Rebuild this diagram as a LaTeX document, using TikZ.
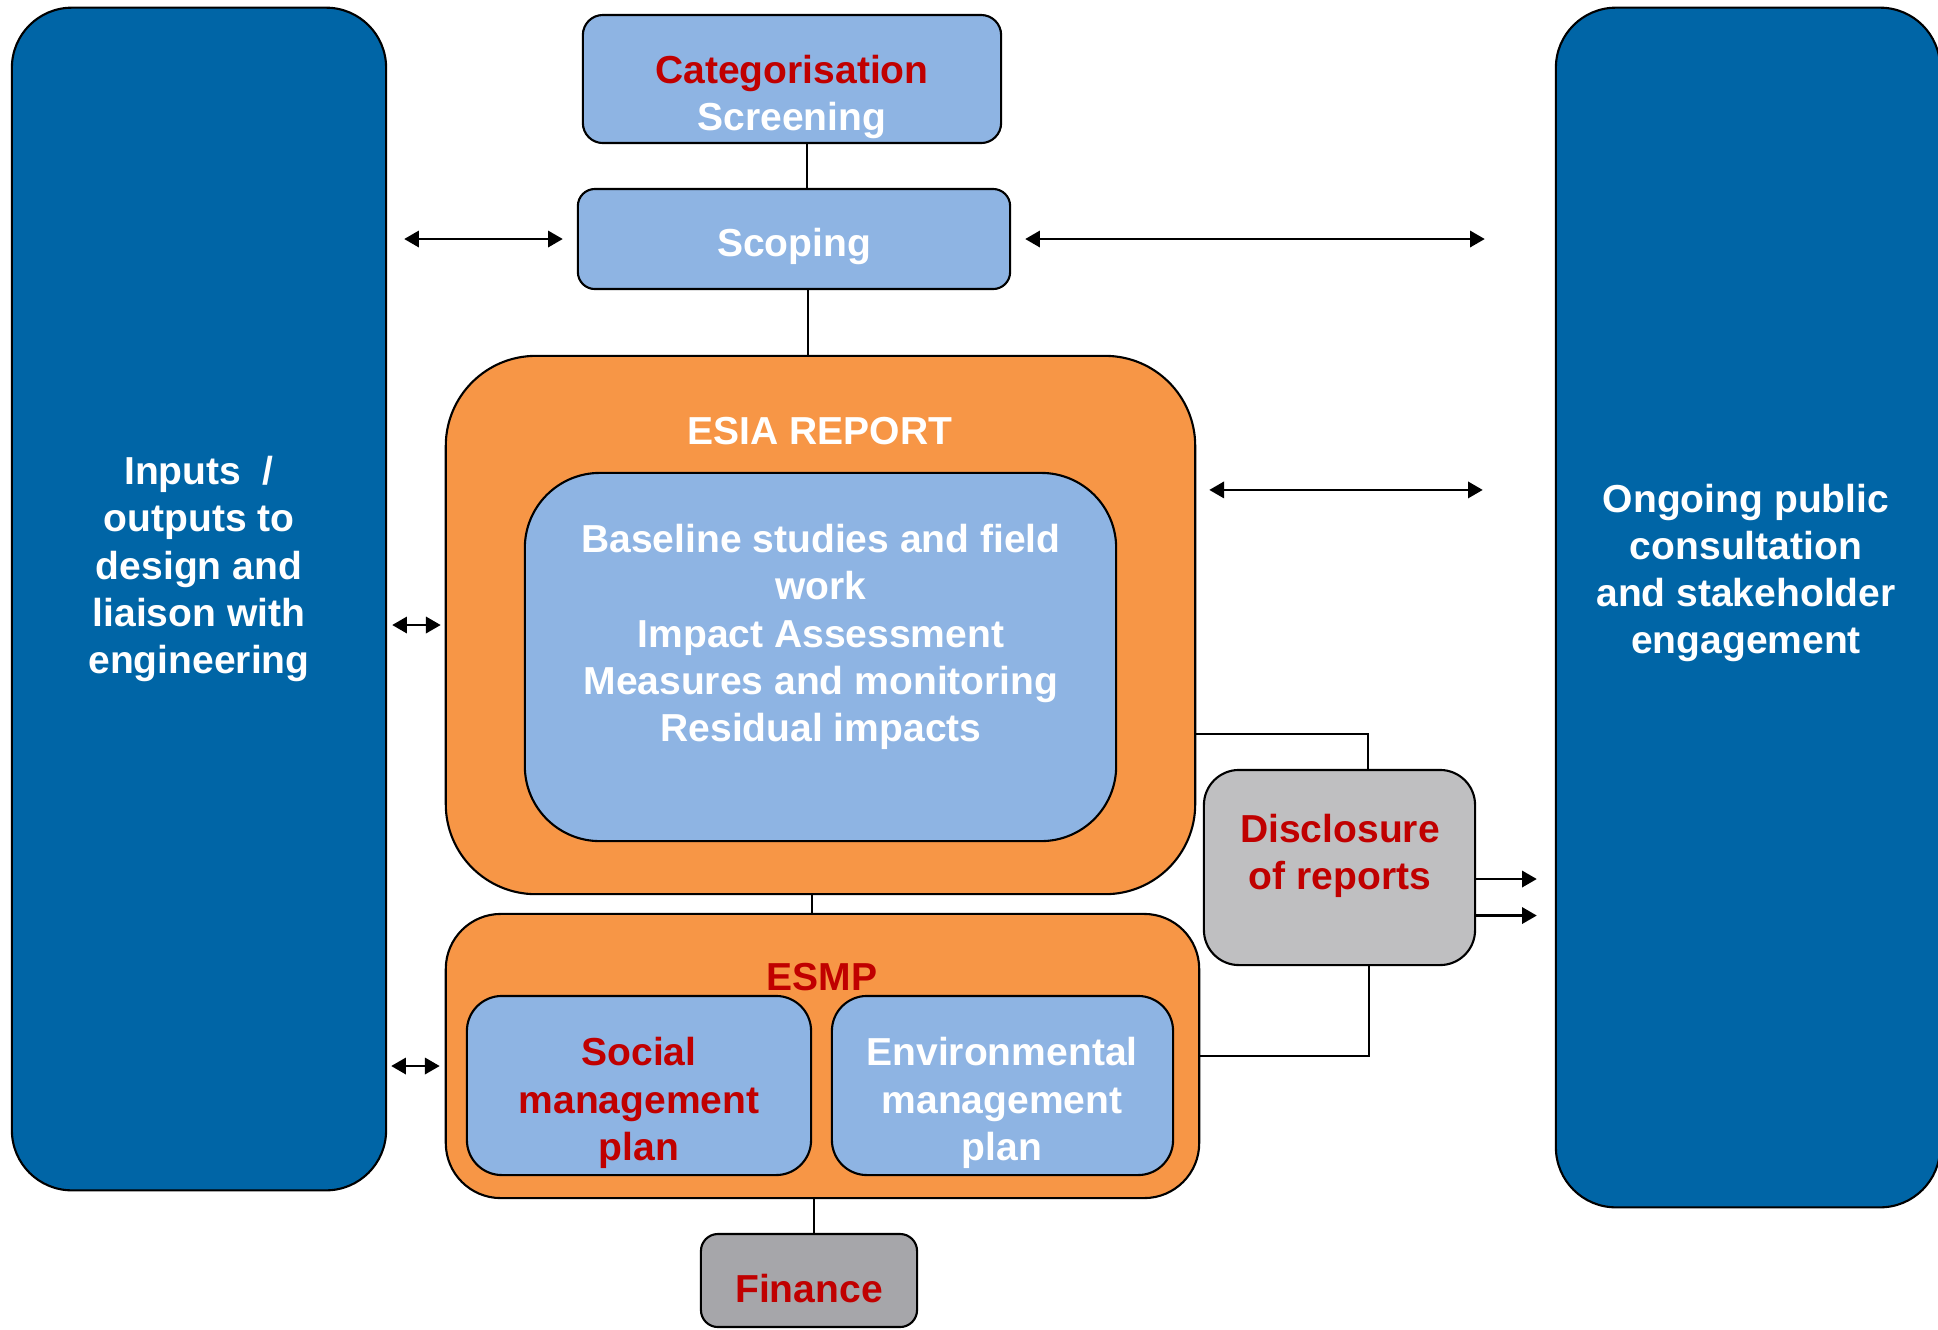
\documentclass[tikz,border=0pt]{standalone}
\usepackage{fontspec}
\setmainfont{Liberation Sans}
\usetikzlibrary{arrows.meta}

\definecolor{deepblue}{RGB}{0,101,166}
\definecolor{paleblue}{RGB}{142,180,227}
\definecolor{esiaorange}{RGB}{247,150,70}
\definecolor{discgray}{RGB}{191,191,193}
\definecolor{fingray}{RGB}{166,166,170}
\definecolor{titlered}{RGB}{192,0,0}

\tikzset{
  box/.style={draw=black, line width=0.6pt, inner sep=0pt},
  txt/.style={font=\fontsize{11.1}{13.4}\selectfont\bfseries, align=center, inner sep=0pt},
  link/.style={draw=black, line width=0.6pt},
  biarrow/.style={line width=0.8pt, {Triangle[length=4.2pt,width=4.6pt]}-{Triangle[length=4.2pt,width=4.6pt]}},
  onearrow/.style={line width=0.8pt, -{Triangle[length=4.2pt,width=4.6pt]}}
}

\begin{document}
\begin{tikzpicture}[x=0.01cm, y=-0.01cm]
\useasboundingbox (0,0) rectangle (1938,1329);

\node[box, fill=deepblue, rounded corners=0.6cm, minimum width=3.74cm, minimum height=11.82cm] (inputs) at (199,599) {};
\node[txt, text=white] (inputstext) at (199,569) {Inputs\ \ /\\outputs to\\design and\\liaison with\\engineering};
\node[box, fill=deepblue, rounded corners=0.6cm, minimum width=3.84cm, minimum height=11.99cm] (ongoing) at (1748,607.5) {};
\node[txt, text=white] (ongoingtext) at (1746,573) {Ongoing public\\consultation\\and stakeholder\\engagement};

\node[box, fill=paleblue, rounded corners=0.2cm, minimum width=4.18cm, minimum height=1.28cm] (categ) at (792,79) {};
\node[txt] (categtext) at (792,97) {\textcolor{titlered}{Categorisation}\\\textcolor{white}{Screening}};
\node[box, fill=paleblue, rounded corners=0.17cm, minimum width=4.32cm, minimum height=1cm] (scope) at (794,239) {};
\node[txt, text=white] (scopetext) at (794,246) {Scoping};

\node[box, fill=esiaorange, rounded corners=0.9cm, minimum width=7.49cm, minimum height=5.38cm] (esia) at (820.5,625) {};
\node[txt, text=white, anchor=base] (esiatitle) at (820,444) {ESIA REPORT};
\node[box, fill=paleblue, rounded corners=0.75cm, minimum width=5.91cm, minimum height=3.68cm] (esiacore) at (820.5,657) {};
\node[txt, text=white] (esiacoretext) at (821,637) {Baseline studies and field\\work\\Impact Assessment\\Measures and monitoring\\Residual impacts};

\node[box, fill=esiaorange, rounded corners=0.55cm, minimum width=7.53cm, minimum height=2.84cm] (esmp) at (822.5,1056) {};
\node[txt, text=titlered, anchor=base] (esmptitle) at (822,990) {ESMP};
\node[box, fill=paleblue, rounded corners=0.35cm, minimum width=3.44cm, minimum height=1.79cm] (social) at (639,1085.5) {};
\node[txt, text=titlered] (socialtext) at (639,1103) {Social\\management\\plan};
\node[box, fill=paleblue, rounded corners=0.35cm, minimum width=3.41cm, minimum height=1.79cm] (environ) at (1002.5,1085.5) {};
\node[txt, text=white] (environtext) at (1002,1103) {Environmental\\management\\plan};

\node[box, fill=discgray, rounded corners=0.35cm, minimum width=2.71cm, minimum height=1.95cm] (disclose) at (1339.5,867.5) {};
\node[txt, text=titlered] (disclosetext) at (1340,856) {Disclosure\\of reports};
\node[box, fill=fingray, rounded corners=0.17cm, minimum width=2.16cm, minimum height=0.93cm] (finance) at (809,1280.5) {};
\node[txt, text=titlered, anchor=base] (financetext) at (809,1302) {Finance};

\draw[link] ([xshift=0.15cm]categ.south) -- ([xshift=0.15cm]categ.south |- scope.north);
\draw[link] ([xshift=0.14cm]scope.south) -- ([xshift=0.14cm]scope.south |- esia.north);
\draw[link] ([xshift=-0.085cm]esia.south) -- ([xshift=-0.085cm]esia.south |- esmp.north);
\draw[link] ([xshift=-0.085cm]esmp.south) -- ([xshift=-0.085cm]esmp.south |- finance.north);
\draw[link] ([yshift=-1.09cm]esia.east) -| ([xshift=0.285cm]disclose.north);
\draw[link] (esmp.east) -| ([xshift=0.295cm]disclose.south);

\coordinate (esmpin) at ([yshift=-0.1cm]esmp.west);
\coordinate (esiaout) at ([yshift=1.35cm]esia.east);
\draw[biarrow, shorten <=0.17cm, shorten >=0.14cm] (inputs.east |- scope.west) -- (scope.west);
\draw[biarrow, shorten <=0.05cm, shorten >=0.04cm] (inputs.east |- esia.west) -- (esia.west);
\draw[biarrow, shorten <=0.04cm, shorten >=0.05cm] (inputs.east |- esmpin) -- (esmpin);
\draw[biarrow, shorten <=0.14cm, shorten >=0.7cm] (scope.east) -- (scope.east -| ongoing.west);
\draw[biarrow, shorten <=0.13cm, shorten >=0.72cm] (esiaout) -- (esiaout -| ongoing.west);
\foreach \dy in {-0.115, -0.48}
  \draw[onearrow, shorten >=0.18cm] ([yshift=\dy cm]disclose.east) -- ([yshift=\dy cm]disclose.east -| ongoing.west);
\end{tikzpicture}
\end{document}
